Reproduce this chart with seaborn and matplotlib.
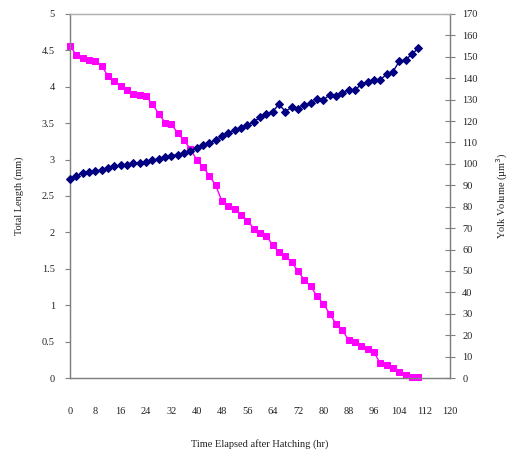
import matplotlib
matplotlib.use("Agg")
import matplotlib.pyplot as plt
import seaborn as sns
import pandas as pd

# ---- data ----
hours = [0, 2, 4, 6, 8, 10, 12, 14, 16, 18, 20, 22, 24, 26, 28, 30, 32, 34, 36, 38,
         40, 42, 44, 46, 48, 50, 52, 54, 56, 58, 60, 62, 64, 66, 68, 70, 72, 74, 76, 78,
         80, 82, 84, 86, 88, 90, 92, 94, 96, 98, 100, 102, 104, 106, 108, 110]

total_length = [2.74, 2.77, 2.82, 2.83, 2.84, 2.86, 2.89, 2.91, 2.92, 2.93,
                2.95, 2.96, 2.97, 2.99, 3.01, 3.03, 3.05, 3.07, 3.09, 3.12,
                3.16, 3.20, 3.23, 3.27, 3.32, 3.36, 3.40, 3.43, 3.47, 3.52,
                3.58, 3.63, 3.66, 3.76, 3.66, 3.72, 3.70, 3.75, 3.78, 3.83,
                3.82, 3.89, 3.87, 3.92, 3.96, 3.95, 4.04, 4.06, 4.09, 4.10,
                4.17, 4.21, 4.35, 4.37, 4.45, 4.53]

yolk_volume = [154.9, 151.0, 149.4, 148.3, 148.2, 145.8, 141.0, 138.5, 136.5, 134.5,
               132.7, 132.2, 131.5, 128.0, 123.5, 119.3, 118.5, 114.5, 111.0, 107.0,
               102.0, 98.5, 94.5, 90.0, 82.5, 80.5, 78.8, 76.3, 73.5, 69.8,
               67.8, 66.5, 62.0, 58.9, 57.2, 54.0, 50.0, 45.7, 42.8, 38.3,
               34.7, 30.0, 25.3, 22.5, 17.6, 17.0, 15.0, 13.6, 12.0, 6.8,
               6.2, 4.7, 3.0, 1.5, 0.6, 0.4]

x_ticks = [0, 8, 16, 24, 32, 40, 48, 56, 64, 72, 80, 88, 96, 104, 112, 120]
left_ticks = [0, 0.5, 1, 1.5, 2, 2.5, 3, 3.5, 4, 4.5, 5]
left_labels = ["0", "0.5", "1", "1.5", "2", "2.5", "3", "3.5", "4", "4.5", "5"]
right_ticks = [0, 10, 20, 30, 40, 50, 60, 70, 80, 90, 100, 110, 120, 130, 140, 150, 160, 170]

df = pd.DataFrame({"hours": hours, "length": total_length, "yolk": yolk_volume})

sns.set_theme(style="white")
plt.rcParams['font.family'] = ['Liberation Serif', 'DejaVu Serif']

W, H = 517, 465
fig = plt.figure(figsize=(W / 100, H / 100), dpi=100)
ax = fig.add_axes([70 / W, 1 - 378 / H, 380 / W, 364 / H])
ax2 = ax.twinx()

navy = "#000080"
pink = "#FF00FF"
axis_col = "#808080"
fs = 7.5

sns.lineplot(data=df, x="hours", y="yolk", ax=ax2, color=pink, marker="s",
             markersize=4.6, markeredgecolor=pink, linewidth=1.0, zorder=3)
sns.lineplot(data=df, x="hours", y="length", ax=ax, color=navy, marker="D",
             markersize=3.8, markeredgecolor=navy, linewidth=1.0, zorder=4)
for a in (ax, ax2):
    for ln in a.lines:
        ln.set_clip_on(False)

ax.set_zorder(ax2.get_zorder() + 1)
ax.patch.set_visible(False)

ax.set_xlim(0, 120)
ax.set_ylim(0, 5)
ax2.set_ylim(0, 170)

ax.set_xticks(x_ticks)
ax.set_xticklabels([str(v) for v in x_ticks], fontsize=fs, color="#222222")
ax.set_yticks(left_ticks)
ax.set_yticklabels(left_labels, fontsize=fs, color="#222222")
ax2.set_yticks(right_ticks)
ax2.set_yticklabels([str(v) for v in right_ticks], fontsize=fs, color="#222222")

ax.tick_params(axis="x", direction="out", length=3.8, width=0.8, color=axis_col, pad=17)
ax.tick_params(axis="y", direction="out", length=3.8, width=0.8, color=axis_col, pad=7)
ax2.tick_params(axis="y", direction="inout", length=7.5, width=0.8, color=axis_col, pad=5)

for a in (ax, ax2):
    for s in a.spines.values():
        s.set_color(axis_col)
        s.set_linewidth(0.9)
        s.set_zorder(1)
    a.grid(False)
ax.spines["top"].set_color("#b0b0b0")
ax2.spines["top"].set_color("#b0b0b0")

ax.set_xlabel("Time Elapsed after Hatching (hr)", fontsize=fs, color="#222222", labelpad=17)
ax.set_ylabel("Total Length (mm)", fontsize=fs, color="#222222", labelpad=13)
ax2.set_ylabel("Yolk Volume (\u00b5m$^{3}$)", fontsize=fs, color="#222222", labelpad=12)

fig.savefig("out.png", dpi=100)
